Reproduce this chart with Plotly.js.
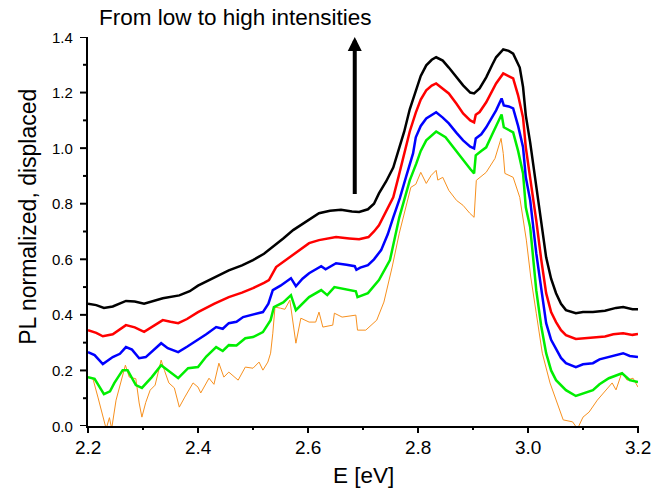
<!DOCTYPE html>
<html>
<head>
<meta charset="utf-8">
<script src="https://cdn.plot.ly/plotly-3.0.1.min.js"></script>
<style>html,body{margin:0;padding:0;background:#fff}#chart{width:652px;height:502px}</style>
</head>
<body>
<div id="chart"></div>
<script>
// Black (highest intensity)
const xBlack = [2.20,2.215,2.229,2.245,2.269,2.285,2.302,2.32,2.336,2.366,2.385,2.40,2.43,2.456,2.48,2.50,2.52,2.536,2.555,2.573,2.59,2.602,2.62,2.64,2.66,2.68,2.693,2.709,2.72,2.729,2.742,2.755,2.764,2.775,2.785,2.796,2.805,2.815,2.825,2.833,2.845,2.856,2.87,2.882,2.895,2.902,2.912,2.924,2.935,2.942,2.955,2.965,2.973,2.985,2.991,2.996,3.004,3.015,3.024,3.033,3.042,3.051,3.06,3.069,3.087,3.10,3.118,3.14,3.16,3.173,3.19,3.20];
const yBlack = [0.44,0.435,0.425,0.43,0.45,0.448,0.44,0.45,0.46,0.47,0.485,0.505,0.535,0.56,0.578,0.597,0.62,0.644,0.675,0.705,0.728,0.744,0.766,0.775,0.778,0.772,0.77,0.78,0.80,0.837,0.88,0.93,0.99,1.06,1.14,1.208,1.26,1.298,1.318,1.327,1.315,1.29,1.255,1.226,1.2,1.197,1.215,1.255,1.3,1.327,1.355,1.35,1.34,1.29,1.22,1.118,1.02,0.86,0.73,0.607,0.53,0.478,0.44,0.417,0.406,0.41,0.41,0.415,0.425,0.428,0.42,0.42];

// Red
const xRed = [2.20,2.215,2.227,2.245,2.269,2.285,2.302,2.32,2.336,2.35,2.364,2.38,2.40,2.43,2.456,2.48,2.50,2.52,2.529,2.542,2.555,2.573,2.59,2.602,2.62,2.651,2.675,2.693,2.71,2.72,2.729,2.742,2.755,2.765,2.773,2.785,2.796,2.805,2.815,2.825,2.833,2.845,2.856,2.87,2.882,2.895,2.902,2.905,2.912,2.924,2.935,2.942,2.955,2.965,2.973,2.982,2.991,2.996,3.005,3.015,3.024,3.033,3.042,3.051,3.06,3.069,3.087,3.10,3.118,3.14,3.155,3.173,3.19,3.20];
const yRed = [0.345,0.335,0.323,0.33,0.363,0.355,0.339,0.36,0.381,0.375,0.37,0.385,0.41,0.44,0.464,0.48,0.496,0.515,0.525,0.572,0.59,0.615,0.64,0.658,0.669,0.68,0.675,0.672,0.68,0.70,0.722,0.77,0.823,0.9,0.967,1.06,1.128,1.175,1.208,1.225,1.233,1.215,1.197,1.16,1.125,1.1,1.093,1.12,1.13,1.165,1.21,1.233,1.269,1.258,1.251,1.19,1.11,1.003,0.88,0.74,0.6,0.478,0.41,0.374,0.345,0.327,0.313,0.315,0.316,0.322,0.33,0.334,0.328,0.331];

// Blue
const xBlue = [2.20,2.212,2.227,2.245,2.258,2.269,2.28,2.293,2.305,2.318,2.333,2.345,2.364,2.38,2.40,2.415,2.433,2.445,2.456,2.47,2.482,2.50,2.518,2.528,2.536,2.55,2.569,2.578,2.59,2.602,2.624,2.632,2.651,2.67,2.685,2.688,2.695,2.709,2.72,2.733,2.745,2.755,2.767,2.778,2.791,2.796,2.805,2.815,2.825,2.833,2.845,2.856,2.87,2.882,2.895,2.902,2.905,2.915,2.924,2.935,2.942,2.952,2.956,2.965,2.973,2.982,2.991,2.996,3.004,3.015,3.024,3.033,3.042,3.051,3.06,3.069,3.087,3.10,3.118,3.13,3.147,3.16,3.173,3.185,3.20];
const yBlue = [0.266,0.255,0.223,0.248,0.26,0.284,0.275,0.244,0.248,0.27,0.298,0.28,0.266,0.285,0.309,0.33,0.356,0.35,0.37,0.375,0.392,0.40,0.41,0.44,0.489,0.505,0.532,0.503,0.53,0.55,0.575,0.564,0.586,0.58,0.575,0.562,0.57,0.579,0.60,0.633,0.69,0.751,0.82,0.895,0.981,1.039,1.08,1.107,1.12,1.129,1.11,1.089,1.055,1.028,1.005,0.999,1.035,1.05,1.075,1.11,1.136,1.179,1.154,1.15,1.143,1.08,1.003,0.895,0.812,0.622,0.49,0.37,0.31,0.28,0.245,0.226,0.212,0.222,0.226,0.24,0.248,0.255,0.262,0.252,0.248];

// Green
const xGreen = [2.20,2.212,2.229,2.24,2.248,2.263,2.272,2.287,2.298,2.316,2.333,2.345,2.364,2.382,2.40,2.415,2.433,2.445,2.456,2.47,2.486,2.50,2.518,2.532,2.538,2.555,2.569,2.578,2.59,2.602,2.624,2.635,2.648,2.67,2.687,2.69,2.709,2.729,2.749,2.766,2.785,2.797,2.805,2.815,2.825,2.833,2.85,2.865,2.882,2.895,2.902,2.905,2.915,2.924,2.935,2.942,2.952,2.956,2.965,2.973,2.982,2.991,2.996,3.004,3.015,3.024,3.033,3.042,3.051,3.069,3.087,3.10,3.118,3.13,3.147,3.171,3.185,3.20];
const yGreen = [0.176,0.17,0.115,0.125,0.155,0.201,0.201,0.147,0.137,0.176,0.219,0.20,0.172,0.208,0.212,0.25,0.284,0.27,0.291,0.29,0.316,0.32,0.338,0.381,0.428,0.445,0.471,0.417,0.44,0.464,0.489,0.471,0.50,0.49,0.485,0.464,0.478,0.525,0.597,0.751,0.884,0.945,0.99,1.028,1.045,1.06,1.039,1.0,0.956,0.925,0.909,0.974,0.99,1.003,1.05,1.082,1.121,1.075,1.065,1.057,0.99,0.909,0.787,0.715,0.489,0.36,0.262,0.2,0.165,0.129,0.108,0.118,0.129,0.15,0.172,0.19,0.165,0.158];

// Orange (lowest intensity)
const xOrange = [2.20,2.209,2.218,2.227,2.233,2.239,2.243,2.251,2.26,2.268,2.275,2.287,2.293,2.298,2.305,2.313,2.322,2.333,2.339,2.347,2.357,2.366,2.376,2.391,2.40,2.405,2.42,2.429,2.438,2.447,2.456,2.473,2.486,2.50,2.511,2.518,2.527,2.532,2.536,2.54,2.55,2.558,2.567,2.571,2.578,2.587,2.602,2.614,2.62,2.627,2.645,2.648,2.662,2.687,2.69,2.705,2.725,2.738,2.753,2.766,2.778,2.787,2.796,2.805,2.815,2.824,2.833,2.836,2.845,2.856,2.87,2.882,2.894,2.902,2.906,2.924,2.94,2.951,2.955,2.958,2.973,2.985,2.997,3.005,3.015,3.026,3.04,3.051,3.064,3.081,3.09,3.10,3.111,3.126,3.141,3.153,3.16,3.171,3.18,3.191,3.20];
const yOrange = [0.176,0.17,0.104,0.032,-0.01,0.03,-0.01,0.093,0.155,0.219,0.176,0.17,0.083,0.032,0.085,0.129,0.147,0.237,0.2,0.155,0.137,0.068,0.104,0.155,0.14,0.119,0.172,0.15,0.226,0.176,0.194,0.165,0.212,0.208,0.23,0.201,0.23,0.262,0.334,0.428,0.424,0.42,0.453,0.40,0.298,0.388,0.374,0.374,0.41,0.356,0.363,0.406,0.392,0.399,0.345,0.345,0.381,0.446,0.572,0.694,0.787,0.859,0.87,0.913,0.873,0.902,0.92,0.885,0.895,0.848,0.812,0.794,0.766,0.751,0.884,0.913,0.963,1.035,0.981,0.909,0.895,0.823,0.669,0.536,0.406,0.262,0.155,0.093,0.022,0.015,-0.01,0.032,0.05,0.093,0.129,0.155,0.13,0.194,0.165,0.172,0.14];

// Axis ranges, tick values and labels
const xRange = [2.2, 3.2];
const yRange = [0.0, 1.4];
const xTicks = [2.2, 2.4, 2.6, 2.8, 3.0, 3.2];
const xMinor = [2.3, 2.5, 2.7, 2.9, 3.1];
const yTicks = [0.0, 0.2, 0.4, 0.6, 0.8, 1.0, 1.2, 1.4];
const yMinor = [0.1, 0.3, 0.5, 0.7, 0.9, 1.1, 1.3];

const FONT = 'Liberation Sans, Arial, sans-serif';
const PLOT_W = 550, PLOT_H = 389;

function tr(x, y, color, w) {
  return {x: x, y: y, type: 'scatter', mode: 'lines', line: {color: color, width: w}, showlegend: false};
}

const data = [
  tr(xOrange, yOrange, '#f7901e', 1),
  tr(xGreen, yGreen, '#00ee00', 2.5),
  tr(xBlue, yBlue, '#0000ff', 2.5),
  tr(xRed, yRed, '#ff0000', 2.5),
  tr(xBlack, yBlack, '#000000', 2.5)
];

// tick marks (drawn as unclipped paper-referenced lines)
const xFrac = v => (v - xRange[0]) / (xRange[1] - xRange[0]);
const shapes = [];
function xTick(v, len) {
  const f = xFrac(v);
  shapes.push({type: 'line', xref: 'paper', yref: 'paper', x0: f, x1: f, y0: 0, y1: -len / PLOT_H, line: {color: '#000', width: 2}});
}
function yTick(v, len) {
  shapes.push({type: 'line', xref: 'paper', yref: 'y', x0: 0, x1: -len / PLOT_W, y0: v, y1: v, line: {color: '#000', width: 2}});
}
xTicks.forEach(v => xTick(v, 7));
xMinor.forEach(v => xTick(v, 4));
yTicks.forEach(v => yTick(v, 8));
yMinor.forEach(v => yTick(v, 5));

const annotations = [];
xTicks.forEach(v => annotations.push({text: v.toFixed(1), xref: 'x', yref: 'paper', x: v, y: -21 / PLOT_H, xanchor: 'center', yanchor: 'middle', showarrow: false, font: {size: 19, family: FONT, color: '#000'}}));
yTicks.forEach(v => annotations.push({text: v.toFixed(1), xref: 'paper', yref: 'y', x: -13 / PLOT_W, y: v, xanchor: 'right', yanchor: 'middle', showarrow: false, font: {size: 15, family: FONT, color: '#000'}}));
annotations.push(
  {text: 'From low to high intensities', xref: 'paper', yref: 'paper', x: 0.016, y: 1.05, xanchor: 'left', yanchor: 'middle', showarrow: false, font: {size: 22.5, family: FONT, color: '#000'}},
  {text: 'PL normalized, displaced', xref: 'paper', yref: 'paper', x: -0.109, y: 0.538, xanchor: 'center', yanchor: 'middle', textangle: -90, showarrow: false, font: {size: 23, family: FONT, color: '#000'}},
  {text: 'E [eV]', xref: 'paper', yref: 'paper', x: 0.50, y: -0.126, xanchor: 'center', yanchor: 'middle', showarrow: false, font: {size: 22.5, family: FONT, color: '#000'}},
  {text: '', x: 2.685, y: 1.40, xref: 'x', yref: 'y', ax: 2.685, ay: 0.83, axref: 'x', ayref: 'y', showarrow: true, arrowhead: 2, arrowsize: 0.7, arrowwidth: 4, arrowcolor: '#000', standoff: 0, startstandoff: 0}
);

const layout = {
  width: 652, height: 502,
  margin: {l: 88, r: 14, t: 37, b: 76},
  showlegend: false,
  xaxis: {range: xRange, showticklabels: false, ticks: '', showline: true, linecolor: '#000', linewidth: 2, showgrid: false, zeroline: false},
  yaxis: {range: yRange, showticklabels: false, ticks: '', showline: true, linecolor: '#000', linewidth: 2, showgrid: false, zeroline: false},
  shapes: shapes,
  annotations: annotations
};

Plotly.newPlot('chart', data, layout, {displayModeBar: false});
</script>
</body>
</html>
